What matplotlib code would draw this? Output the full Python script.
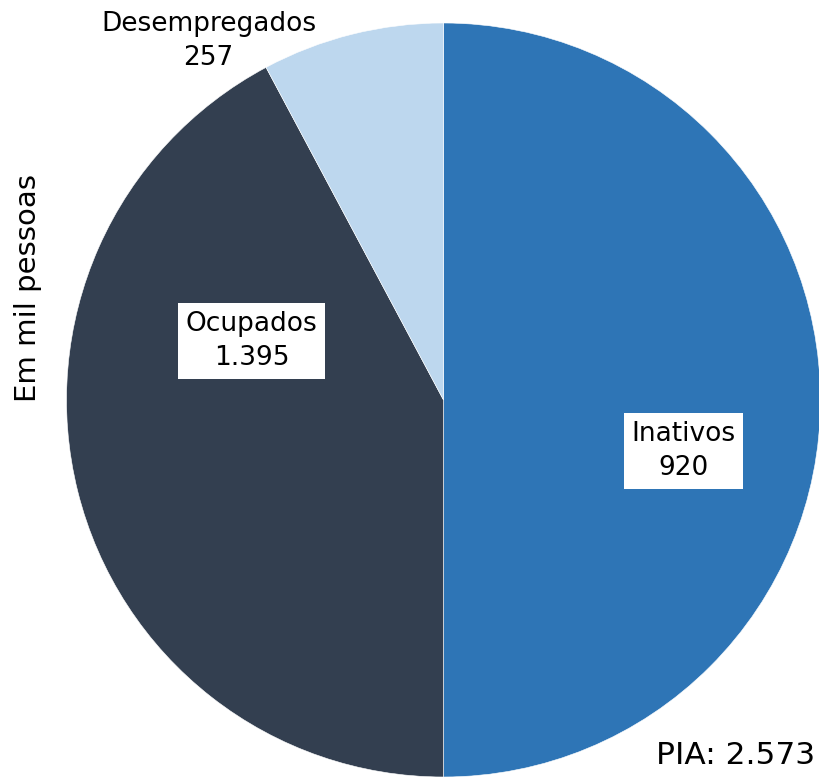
import matplotlib
matplotlib.use("Agg")
import matplotlib.pyplot as plt

plt.rcParams['font.family'] = ['DejaVu Sans']

# Data
categories = ["Inativos", "Ocupados", "Desempregados"]
value_labels = ["920", "1.395", "257"]
# slice shares as drawn in the picture (percent)
slice_shares = [50.0, 42.2, 7.8]
colors = ["#2E75B6", "#333F50", "#BDD7EE"]
total_label = "PIA: 2.573"
ylabel = "Em mil pessoas"

W, H = 819, 777
fig = plt.figure(figsize=(W / 100, H / 100), dpi=100)
ax = fig.add_axes([0, 0, 1, 1])

cx, cy, R = 443.5, 400.0, 377.0

def px(xp, yp):
    return (xp - cx) / R, (cy - yp) / R

ax.pie(slice_shares, colors=colors, startangle=90, counterclock=False,
       radius=1.0, wedgeprops=dict(edgecolor="white", linewidth=0.4))

ax.set_xlim(-cx / R, (W - cx) / R)
ax.set_ylim(-(H - cy) / R, cy / R)
ax.set_aspect('auto')
ax.axis('off')

# labels
label_pos = [(683.5, 451), (251.5, 341), (208.5, 41)]
for i, (cat, val) in enumerate(zip(categories, value_labels)):
    x, y = px(*label_pos[i])
    if i < 2:
        ax.text(x, y, f"{cat}\n{val}", ha="center", va="center", fontsize=19,
                linespacing=1.42, color="black",
                bbox=dict(boxstyle="square,pad=0.28", facecolor="white", edgecolor="none"))
    else:
        ax.text(x, y, f"{cat}\n{val}", ha="center", va="center", fontsize=19,
                linespacing=1.36, color="black")

x, y = px(815, 756)
ax.text(x, y, total_label, ha="right", va="center", fontsize=22.5, color="black")

x, y = px(28, 288)
ax.text(x, y, ylabel, ha="center", va="center", rotation=90, fontsize=21, color="black")

fig.savefig("out.png", dpi=100)
